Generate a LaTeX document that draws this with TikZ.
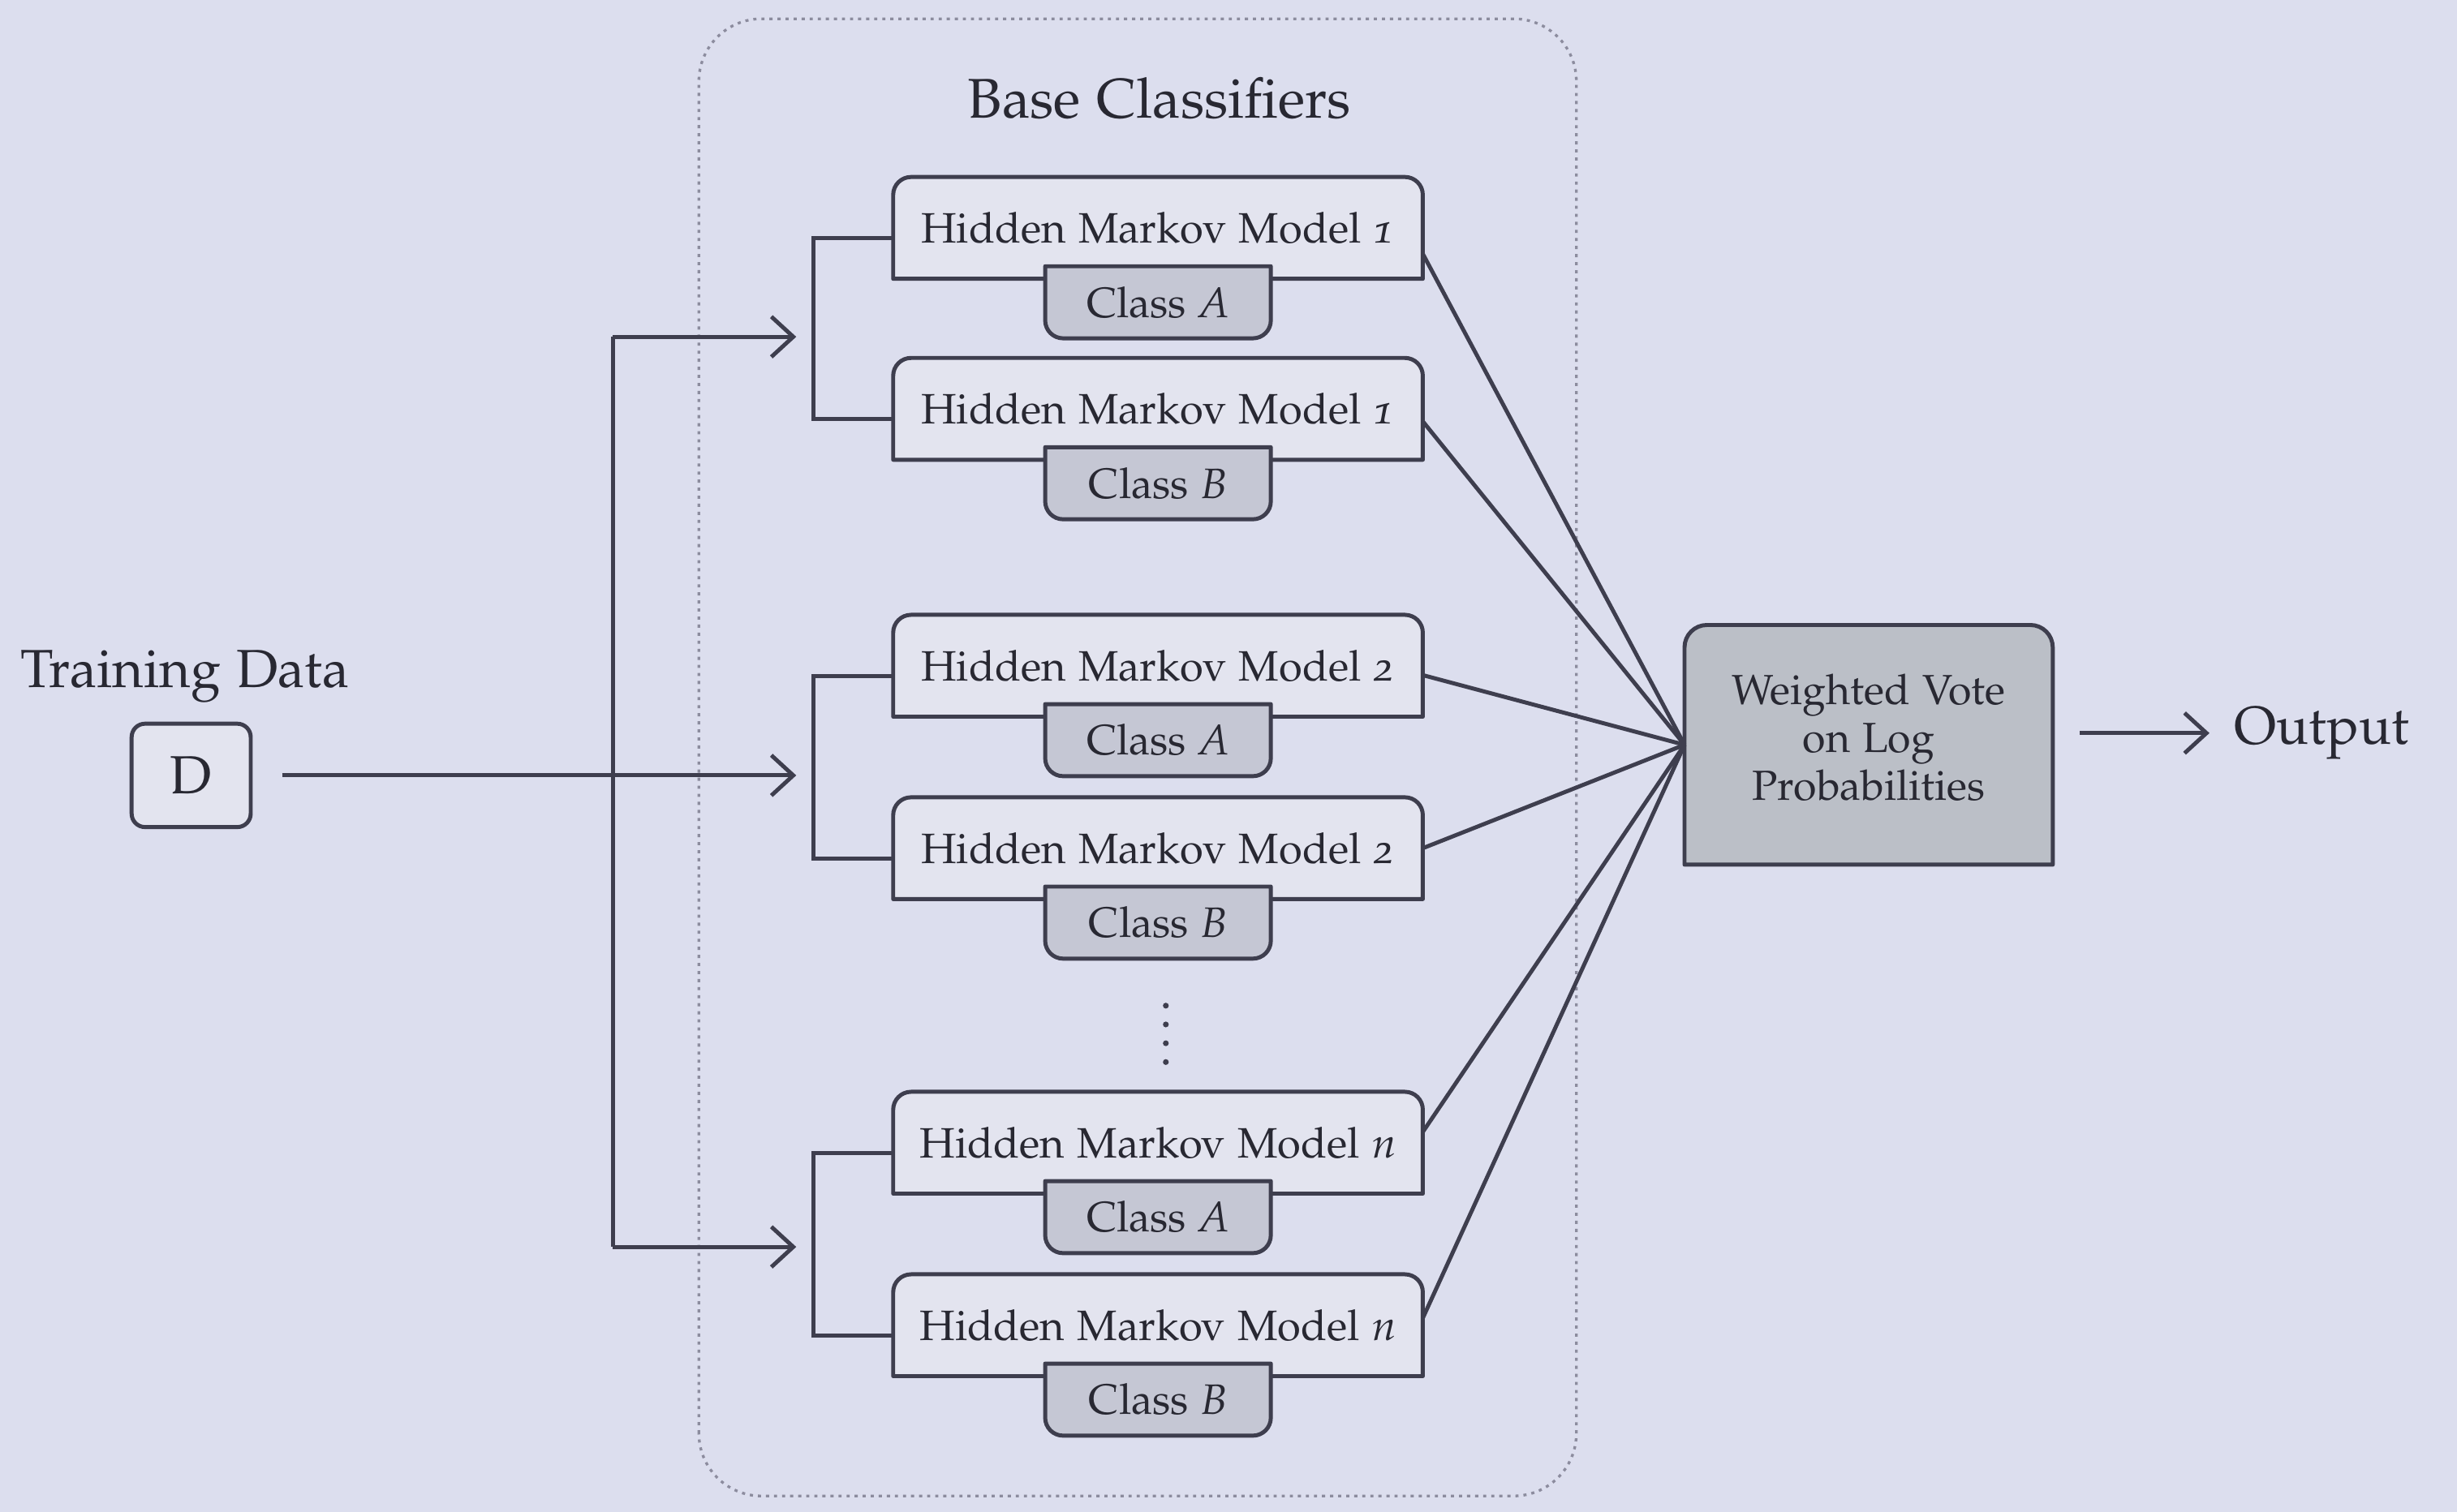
\documentclass[tikz,border=0pt]{standalone}
\usepackage[T1]{fontenc}
\usepackage[osf]{mathpazo}
\usetikzlibrary{positioning,arrows.meta}
\pgfdeclarelayer{background}
\pgfsetlayers{background,main}

% box outline with the two top corners rounded
\newcommand\topround[3]{%
  \path[draw=lineColor,fill=#2,line width=0.9pt,line join=round]
    (#1.south west) -- ([yshift=-#3]#1.north west)
    arc[start angle=180,end angle=90,radius=#3]
    -- ([xshift=-#3]#1.north east)
    arc[start angle=90,end angle=0,radius=#3]
    -- (#1.south east) -- cycle;}
% box outline with the two bottom corners rounded
\newcommand\botround[3]{%
  \path[draw=lineColor,fill=#2,line width=0.9pt,line join=round]
    (#1.north west) -- ([yshift=#3]#1.south west)
    arc[start angle=180,end angle=270,radius=#3]
    -- ([xshift=-#3]#1.south east)
    arc[start angle=270,end angle=360,radius=#3]
    -- (#1.north east) -- cycle;}

\tikzset{
  hmm/.style={minimum width=118.3pt,minimum height=22.75pt,inner sep=0pt,outer sep=0pt,
    text=textColor,font=\fontsize{9.5}{11}\selectfont},
  classbox/.style={minimum width=50.4pt,minimum height=16.1pt,inner sep=0pt,outer sep=0pt,
    text=textColor,font=\fontsize{9.5}{11}\selectfont},
  votebox/.style={minimum width=82.25pt,minimum height=53.55pt,inner sep=0pt,outer sep=0pt,
    align=center,text depth=3.4pt,text=textColor,font=\fontsize{9.4}{10.7}\selectfont},
  label/.style={inner sep=0pt,outer sep=0pt,text=textColor,font=\fontsize{12}{14}\selectfont},
  wire/.style={draw=lineColor,line width=0.9pt},
  feed/.style={wire,-{Straight Barb[length=4.9pt,width=9pt]}},
}

\begin{document}
\begin{tikzpicture}[x=1pt,y=1pt]
\definecolor{bgColor}{RGB}{220,222,238}
\definecolor{hmmColor}{RGB}{227,228,239}
\definecolor{classColor}{RGB}{197,199,212}
\definecolor{voteColor}{RGB}{187,191,199}
\definecolor{lineColor}{RGB}{62,62,78}
\definecolor{textColor}{RGB}{40,40,50}
\definecolor{frameColor}{RGB}{140,140,158}
\path[use as bounding box] (0,0) rectangle (548.80,337.75);

% base classifiers
\node[hmm] (hmm1) at (258.65,286.83) {Hidden Markov Model \textit{1}};
\node[classbox,below=-2.8pt of hmm1] (cls1) {Class \textit{A}};
\node[hmm] (hmm2) at (258.65,246.40) {Hidden Markov Model \textit{1}};
\node[classbox,below=-2.8pt of hmm2] (cls2) {Class \textit{B}};
\node[hmm] (hmm3) at (258.65,189.00) {Hidden Markov Model \textit{2}};
\node[classbox,below=-2.8pt of hmm3] (cls3) {Class \textit{A}};
\node[hmm] (hmm4) at (258.65,148.23) {Hidden Markov Model \textit{2}};
\node[classbox,below=-2.8pt of hmm4] (cls4) {Class \textit{B}};
\node[hmm] (hmm5) at (258.65, 82.43) {Hidden Markov Model \textit{n}};
\node[classbox,below=-2.8pt of hmm5] (cls5) {Class \textit{A}};
\node[hmm] (hmm6) at (258.65, 41.65) {Hidden Markov Model \textit{n}};
\node[classbox,below=-2.8pt of hmm6] (cls6) {Class \textit{B}};

\node[label,font=\fontsize{12.5}{14}\selectfont] (title) at (259.00,315.70) {Base Classifiers};

% input and output
\node[draw=lineColor,fill=hmmColor,line width=0.9pt,rounded corners=3pt,
  minimum width=26.6pt,minimum height=23.1pt,inner sep=0pt,outer sep=0pt,
  text=textColor,font=\fontsize{12}{14}\selectfont] (data) at (42.70,164.50) {D};
\node[label] (datalabel) at (41.30,186.55) {Training Data};
\node[votebox] (vote) at (417.38,171.33) {Weighted Vote\\on Log\\Probabilities};
\node[label,anchor=west] (out) at (499.10,173.95) {Output};

\coordinate (split1) at (136.85,262.50);
\coordinate (split3) at (136.85, 59.15);
\coordinate (in1) at (181.65,262.50);
\coordinate (in2) at (181.65,164.50);
\coordinate (in3) at (181.65, 59.15);

\begin{pgfonlayer}{background}
\path[fill=bgColor] (0,0) rectangle (548.80,337.75);
\path[draw=frameColor,line width=0.6pt,dash pattern=on 0.7pt off 1.1pt,rounded corners=14pt]
  (156.10,3.50) rectangle (352.10,333.55);
\topround{hmm1}{hmmColor}{4pt}
\botround{cls1}{classColor}{4pt}
\topround{hmm2}{hmmColor}{4pt}
\botround{cls2}{classColor}{4pt}
\topround{hmm3}{hmmColor}{4pt}
\botround{cls3}{classColor}{4pt}
\topround{hmm4}{hmmColor}{4pt}
\botround{cls4}{classColor}{4pt}
\topround{hmm5}{hmmColor}{4pt}
\botround{cls5}{classColor}{4pt}
\topround{hmm6}{hmmColor}{4pt}
\botround{cls6}{classColor}{4pt}
\topround{vote}{voteColor}{5pt}
\end{pgfonlayer}

% splitting the training data
\draw[wire] (split1) -- (split3);
\draw[feed,shorten >=3.8pt] (split1) -- (in1);
\draw[feed,shorten <=7pt,shorten >=3.8pt] (data) -- (in2);
\draw[feed,shorten >=3.8pt] (split3) -- (in3);

\draw[wire] ([yshift=-2.3pt]hmm1.west) -| (in1) |- ([yshift=-2.3pt]hmm2.west);
\draw[wire] ([yshift=-2.3pt]hmm3.west) -| (in2) |- ([yshift=-2.3pt]hmm4.west);
\draw[wire] ([yshift=-2.3pt]hmm5.west) -| (in3) |- ([yshift=-2.3pt]hmm6.west);

% votes
\draw[wire] ([yshift=-5.8pt]hmm1.east) -- (vote.west);
\draw[wire] ([yshift=-2.8pt]hmm2.east) -- (vote.west);
\draw[wire] ([yshift=-2.1pt]hmm3.east) -- (vote.west);
\draw[wire] (hmm4.east) -- (vote.west);
\draw[wire] ([yshift=2.4pt]hmm5.east) -- (vote.west);
\draw[wire] ([yshift=1.6pt]hmm6.east) -- (vote.west);

\draw[feed,shorten <=6pt,shorten >=5.6pt] (vote.east |- out.west) -- (out.west);

% more models
\path[draw=lineColor,line width=1.3pt,line cap=round,dash pattern=on 0pt off 4.2pt]
  (260.40,113.05) -- (260.40,96.25);
\end{tikzpicture}
\end{document}
